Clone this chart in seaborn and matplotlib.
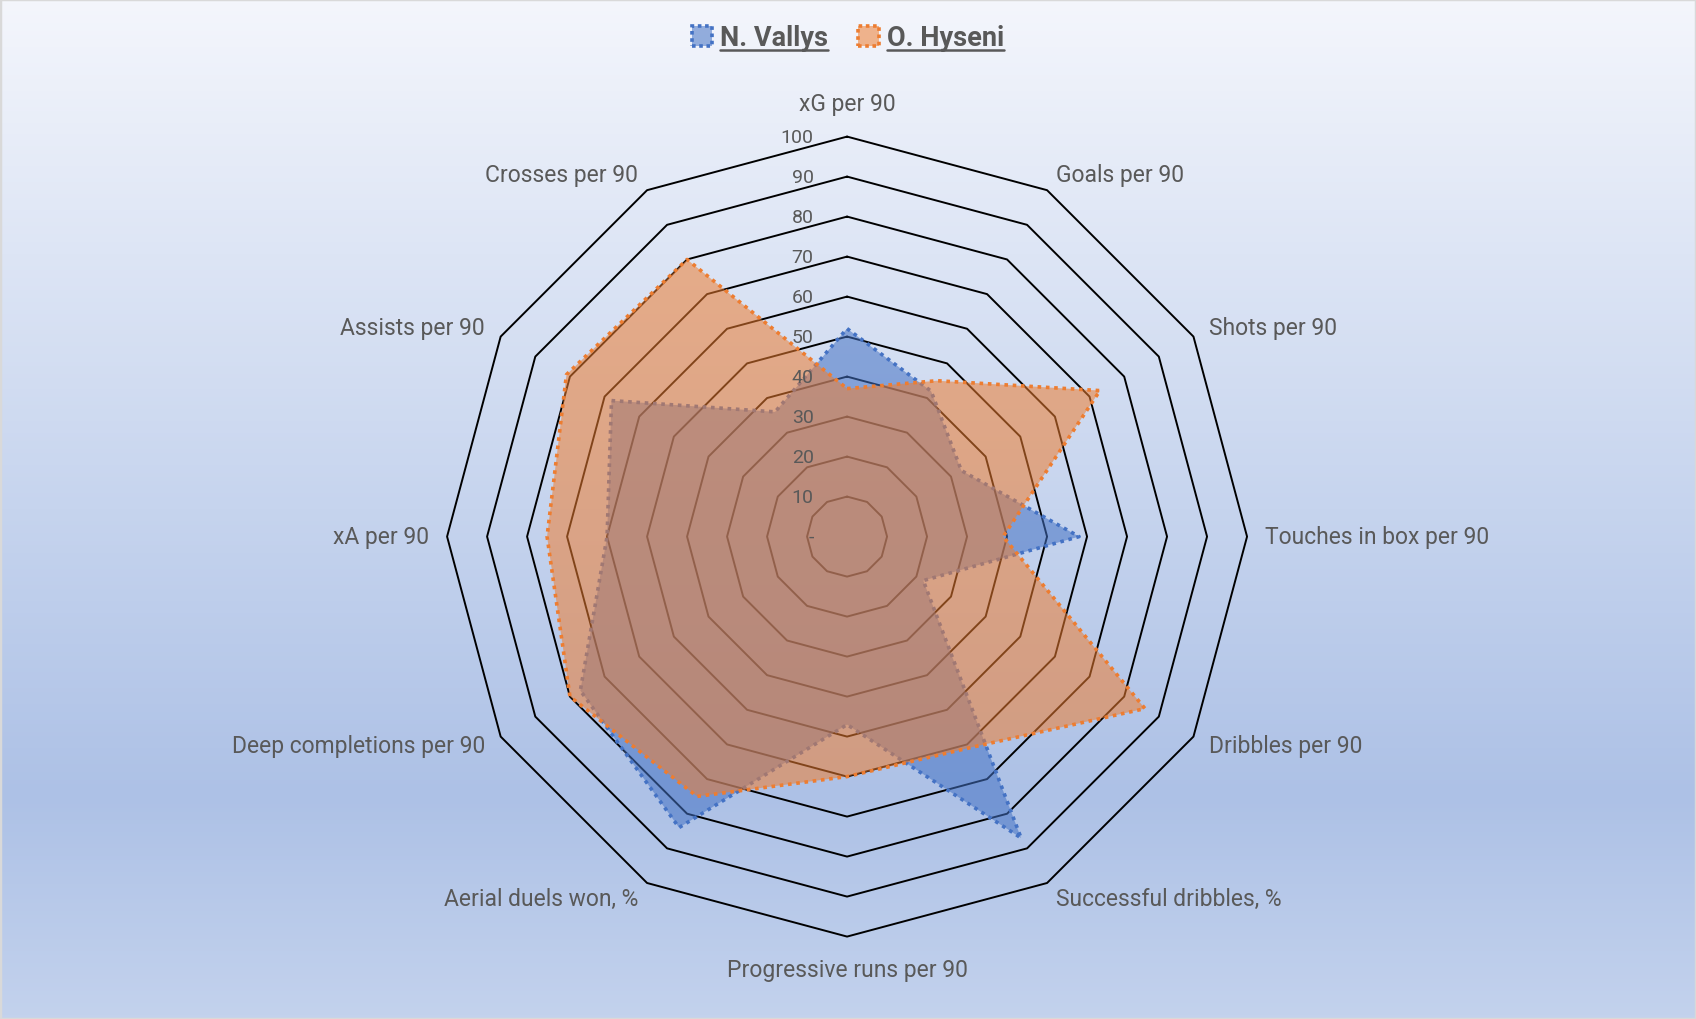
import numpy as np
import pandas as pd
import seaborn as sns
import matplotlib.pyplot as plt
from matplotlib.colors import LinearSegmentedColormap, to_rgba
from matplotlib.patches import Patch
from matplotlib.lines import Line2D


categories = ['xG per 90', 'Goals per 90', 'Shots per 90', 'Touches in box per 90',
              'Dribbles per 90', 'Successful dribbles, %', 'Progressive runs per 90',
              'Aerial duels won, %', 'Deep completions per 90', 'xA per 90',
              'Assists per 90', 'Crosses per 90']
vallys = [52, 42, 33, 58, 22, 87, 47, 84, 77, 60, 68, 36]
hyseni = [37, 45, 73, 39, 86, 61, 60, 75, 80, 75, 81, 80]
players = ['N. Vallys', 'O. Hyseni']
ring_values = [0, 10, 20, 30, 40, 50, 60, 70, 80, 90, 100]
ring_labels = ['-', '10', '20', '30', '40', '50', '60', '70', '80', '90', '100']

colors = {'N. Vallys': '#4472C4', 'O. Hyseni': '#ED7D31'}
text_color = '#595959'

sns.set_style('white')
plt.rcParams['font.family'] = ['Roboto', 'DejaVu Sans']

# long table, closed polygons
n = len(categories)
theta = np.deg2rad(np.arange(n) * 360 / n)
theta_closed = np.append(theta, theta[0])
rows = []
for name, vals in zip(players, [vallys, hyseni]):
    for t, v in zip(theta_closed, vals + vals[:1]):
        rows.append({'player': name, 'theta': t, 'value': v})
df = pd.DataFrame(rows)

fig = plt.figure(figsize=(16.96, 10.20), dpi=100)

# background gradient + border
ax_bg = fig.add_axes([0, 0, 1, 1], zorder=-10)
bg_cmap = LinearSegmentedColormap.from_list(
    'bg', [(0.0, '#F4F6FC'), (0.5, '#C6D4EE'), (0.78, '#ADC1E6'), (1.0, '#C3D2ED')])
ax_bg.imshow(np.linspace(0, 1, 256).reshape(-1, 1), aspect='auto', cmap=bg_cmap,
             extent=[0, 1, 0, 1], origin='upper')
ax_bg.set_xticks([])
ax_bg.set_yticks([])
for sp in ax_bg.spines.values():
    sp.set_color('#D9D9D9')
    sp.set_linewidth(2.5)

ax = fig.add_axes([0.2636, 0.0808, 0.4717, 0.7843], projection='polar')
ax.set_facecolor('none')
ax.set_theta_zero_location('N')
ax.set_theta_direction(-1)

# polygon rings
for r in ring_values[1:]:
    ax.plot(theta_closed, [r] * (n + 1), color='black', lw=1.4, zorder=1, clip_on=False)

z = 2
for name in players:
    sub = df[df['player'] == name]
    ax.fill(sub['theta'], sub['value'], color=colors[name], alpha=0.55, lw=0, zorder=z)
    sns.lineplot(data=sub, x='theta', y='value', sort=False, estimator=None,
                 color=colors[name], lw=2.6, linestyle=(0, (1, 1.3)), zorder=z + 1,
                 ax=ax, legend=False)
    z += 2

ax.set_ylim(0, 100)
ax.set_xticks([])
ax.set_yticks([])
ax.grid(False)
ax.spines['polar'].set_visible(False)
ax.set_xlabel('')
ax.set_ylabel('')

# value labels along the top axis
for v, lab in zip(ring_values, ring_labels):
    ax.annotate(lab, xy=(0, v), xytext=(-24, 0), textcoords='offset points',
                ha='right', va='center', fontsize=14, color=text_color, zorder=10)

# category labels
for t, lab in zip(theta, categories):
    dx, dy = np.sin(t), np.cos(t)
    if abs(dx) < 1e-6:
        ax.annotate(lab, xy=(t, 100), xytext=(0, 24 * np.sign(dy)), textcoords='offset points',
                    ha='center', va='center', fontsize=16.5, color=text_color,
                    annotation_clip=False)
    else:
        ax.annotate(lab, xy=(t, 100), xytext=(13 * dx, 13 * dy), textcoords='offset points',
                    ha='left' if dx > 0 else 'right', va='center', fontsize=16.5,
                    color=text_color, annotation_clip=False)

handles = [Patch(facecolor=to_rgba(colors[p], 0.55), edgecolor=colors[p],
                 linestyle=(0, (1, 1)), linewidth=2.6) for p in players]
leg = fig.legend(handles, players, loc='center', bbox_to_anchor=(0.5, 0.962), ncol=2,
                 frameon=False, prop={'family': 'Roboto', 'weight': 'bold', 'size': 19.5},
                 labelcolor=text_color, handlelength=0.75, handleheight=0.75,
                 handletextpad=0.3, columnspacing=1.1)

# underline legend labels
fig.canvas.draw()
renderer = fig.canvas.get_renderer()
inv = fig.transFigure.inverted()
for txt in leg.get_texts():
    bb = txt.get_window_extent(renderer)
    (x0, y0), (x1, _) = inv.transform([(bb.x0, bb.y0 + 1), (bb.x1, bb.y0 + 1)])
    fig.add_artist(Line2D([x0, x1], [y0, y0], color=text_color, lw=1.8,
                          transform=fig.transFigure))

fig.savefig('out.png', dpi=100)
